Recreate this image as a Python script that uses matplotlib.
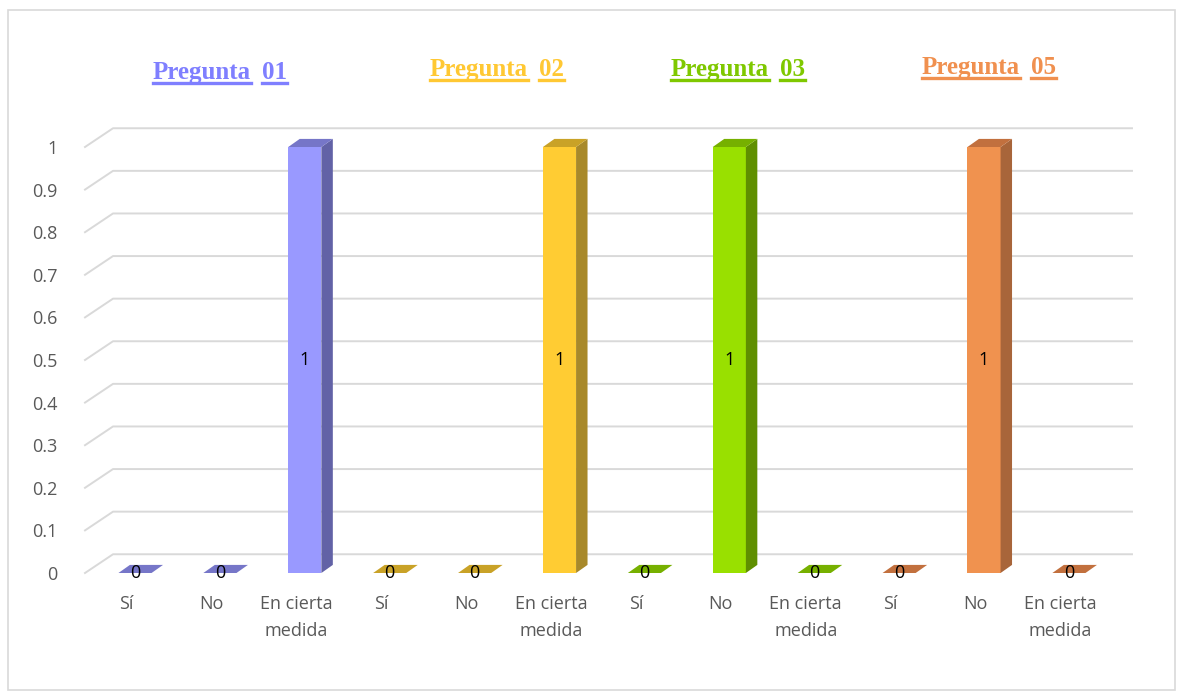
import matplotlib.pyplot as plt
from matplotlib.patches import Polygon, Rectangle
from matplotlib.lines import Line2D

# data
categories = ['Sí', 'No', 'En cierta\nmedida'] * 4
values = [0, 0, 1, 0, 0, 1, 0, 1, 0, 0, 1, 0]
title_word = 'Pregunta'
title_numbers = ['01', '02', '03', '05']
yticks = [0, 0.1, 0.2, 0.3, 0.4, 0.5, 0.6, 0.7, 0.8, 0.9, 1]
ytick_labels = ['0', '0.1', '0.2', '0.3', '0.4', '0.5', '0.6', '0.7', '0.8', '0.9', '1']

# colours per question (front, side, top, title)
front_colors = ['#9999ff', '#ffcc33', '#99e000', '#f0924f']
side_colors = ['#6262a6', '#a8892a', '#5f8f00', '#a8653a']
top_colors = ['#7676c8', '#c9a227', '#76b000', '#c2703e']
title_colors = ['#7f7fff', '#ffc833', '#7fc800', '#f0904f']

W, H = 1183, 699
fig = plt.figure(figsize=(W / 100, H / 100), dpi=100)

# outer border
fig.patches.append(Rectangle((8 / W, 9 / H), 1167 / W, 680 / H, transform=fig.transFigure,
                             fill=False, edgecolor='#d9d9d9', lw=1.2))

# axes placed so that category i -> x=135+84.9*i px, value 0 -> y=573 px, 1 -> 147 px
xl, xr = -0.589, 11.743
ytop = 1.06
ax = fig.add_axes([85 / W, (H - 573) / H, 1047 / W, ytop * 426 / H])
ax.set_xlim(xl, xr)
ax.set_ylim(0, ytop)
for s in ax.spines.values():
    s.set_visible(False)

# 3D gridlines: floor depth offset
gdx, gdy = 0.33, 0.044
for v in yticks:
    ax.add_line(Line2D([xl, xl + gdx, xr], [v, v + gdy, v + gdy], color='#d9d9d9', lw=1.4,
                       clip_on=False, zorder=1))

ax.set_yticks(yticks)
ax.set_yticklabels(ytick_labels)
ax.set_xticks([i - 0.1 for i in range(len(categories))])
ax.set_xticklabels(categories, linespacing=1.6)
ax.tick_params(axis='y', length=0, pad=20, labelsize=13, labelcolor='#595959')
ax.tick_params(axis='x', length=0, pad=16, labelsize=13, labelcolor='#595959')
for lab in ax.get_xticklabels() + ax.get_yticklabels():
    lab.set_family('Open Sans')

# bars
w = 0.39
bdx, bdy = 0.135, 0.019
for i, v in enumerate(values):
    g = i // 3
    x0, x1 = i - w / 2, i + w / 2
    if v > 0:
        ax.add_patch(Rectangle((x0, 0), w, v, facecolor=front_colors[g], edgecolor='none', zorder=3))
        ax.add_patch(Polygon([(x1, 0), (x1 + bdx, bdy), (x1 + bdx, v + bdy), (x1, v)],
                             facecolor=side_colors[g], edgecolor='none', zorder=3))
    ax.add_patch(Polygon([(x0, v), (x1, v), (x1 + bdx, v + bdy), (x0 + bdx, v + bdy)],
                         facecolor=top_colors[g], edgecolor='none', zorder=3))
    ax.text(i, v / 2 if v > 0 else 0.0, str(v), ha='center', va='center', fontsize=13,
            family='Open Sans', color='black', zorder=4)

# titles (bold serif, underlined word by word)
title_pos = [(153, 79), (430, 76), (671, 76), (922, 74)]
fig.canvas.draw()
renderer = fig.canvas.get_renderer()
for (px, py), num, col in zip(title_pos, title_numbers, title_colors):
    x = px
    for word in (title_word, num):
        t = fig.text(x / W, (H - py) / H, word, fontsize=18, fontweight='bold',
                     family='Liberation Serif', color=col, ha='left', va='baseline')
        bb = t.get_window_extent(renderer)
        uy = (H - py - 4) / H
        fig.add_artist(Line2D([bb.x0 / W, bb.x1 / W], [uy, uy], transform=fig.transFigure,
                              color=col, lw=2.4))
        x = bb.x1 + 11

fig.savefig('out.png', dpi=100)
